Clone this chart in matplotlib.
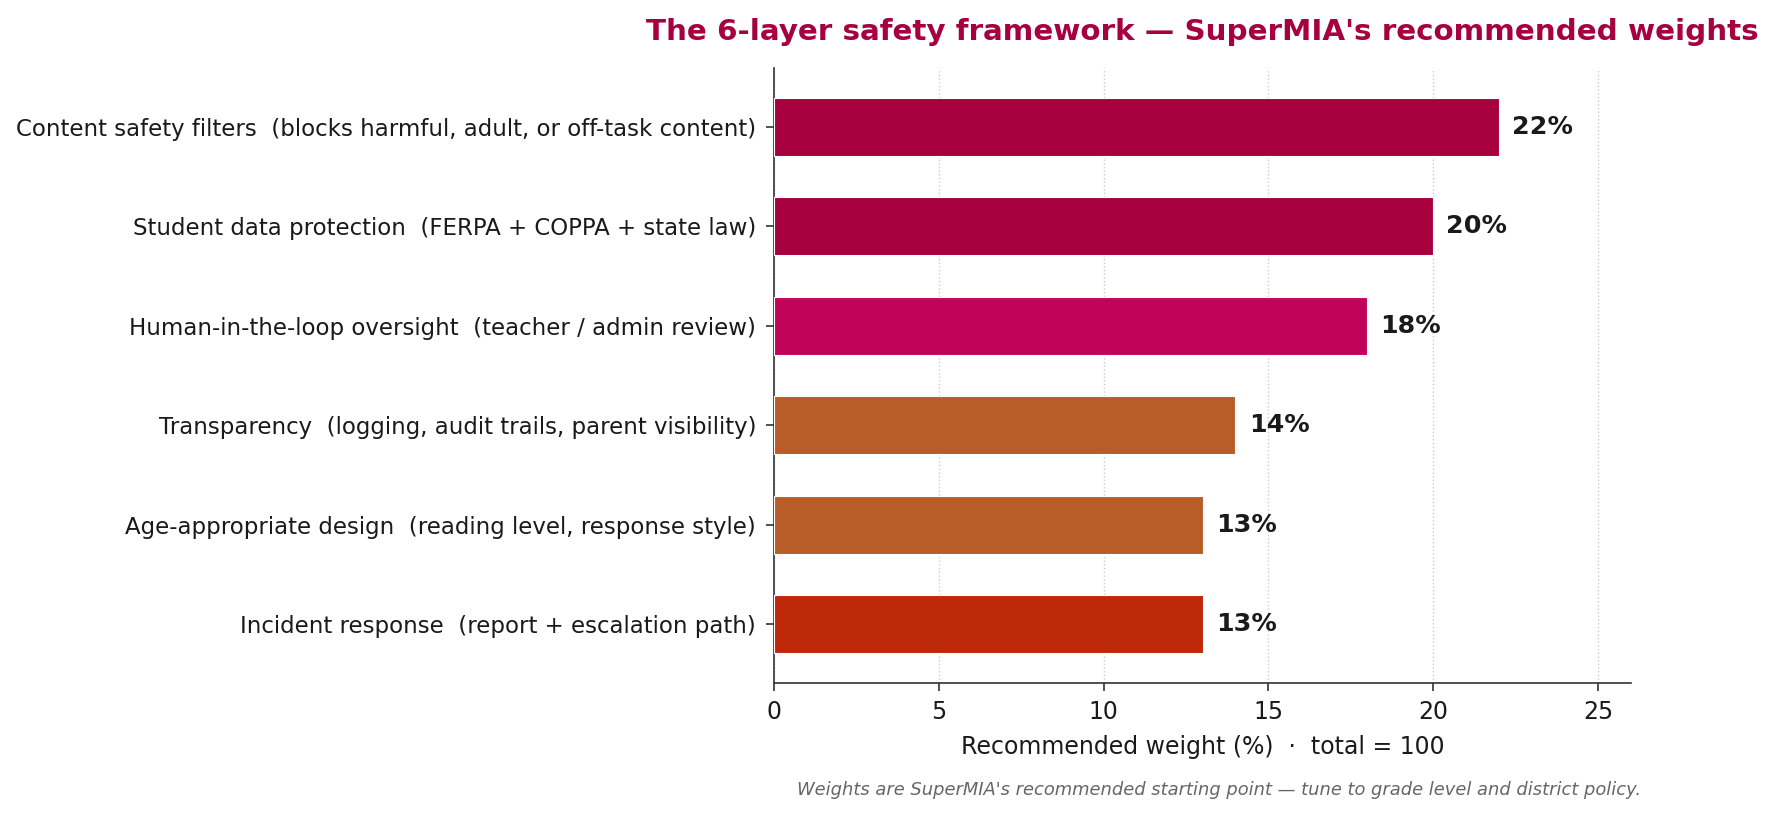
import matplotlib
matplotlib.use("Agg")
import matplotlib.pyplot as plt

categories = [
    "Content safety filters  (blocks harmful, adult, or off-task content)",
    "Student data protection  (FERPA + COPPA + state law)",
    "Human-in-the-loop oversight  (teacher / admin review)",
    "Transparency  (logging, audit trails, parent visibility)",
    "Age-appropriate design  (reading level, response style)",
    "Incident response  (report + escalation path)",
]
weights = [22, 20, 18, 14, 13, 13]
colors = ["#A6003F", "#A6003F", "#C0045A", "#B85D28", "#B85D28", "#BD2809"]
xticks = [0, 5, 10, 15, 20, 25]

W, H = 1778, 816
fig = plt.figure(figsize=(W / 100, H / 100), dpi=100)
ax = fig.add_axes([774 / W, 1 - 683 / H, (1631 - 774) / W, (683 - 68) / H])

ypos = list(range(len(categories)))[::-1]
ax.barh(ypos, weights, height=0.58, color=colors, edgecolor="white", linewidth=0.8, zorder=3)
for y, v in zip(ypos, weights):
    ax.text(v + 0.4, y, f"{v}%", ha="left", va="center", fontsize=18.3,
            fontweight="bold", color="#1a1a1a", zorder=4)

ax.set_yticks(ypos)
ax.set_yticklabels(categories, fontsize=16.5, color="#1a1a1a")
ax.set_xticks(xticks)
ax.tick_params(axis="x", labelsize=17, colors="#333333", labelcolor="#1a1a1a",
               length=6, width=1.2, pad=6.5)
ax.tick_params(axis="y", length=6, width=1.2, colors="#333333", labelcolor="#1a1a1a", pad=6.8)
ax.set_xlim(0, 26)
ax.set_ylim(-0.59, 5.59)
ax.grid(axis="x", linestyle=":", color="#cccccc", linewidth=1.0, zorder=0)
ax.set_axisbelow(True)
for s in ["top", "right"]:
    ax.spines[s].set_visible(False)
for s in ["left", "bottom"]:
    ax.spines[s].set_color("#333333")
    ax.spines[s].set_linewidth(1.2)

ax.set_xlabel("Recommended weight (%)  ·  total = 100", fontsize=17, color="#1a1a1a", labelpad=8)
ax.set_title("The 6-layer safety framework — SuperMIA's recommended weights",
             fontsize=21.2, fontweight="bold", color="#A6003F", pad=20)

fig.text(1641 / W, 1 - 790 / H, "Weights are SuperMIA's recommended starting point — tune to grade level and district policy.",
         ha="right", va="center", fontsize=12.9, style="italic", color="#666666")

fig.savefig("out.png", dpi=100, facecolor="white")
